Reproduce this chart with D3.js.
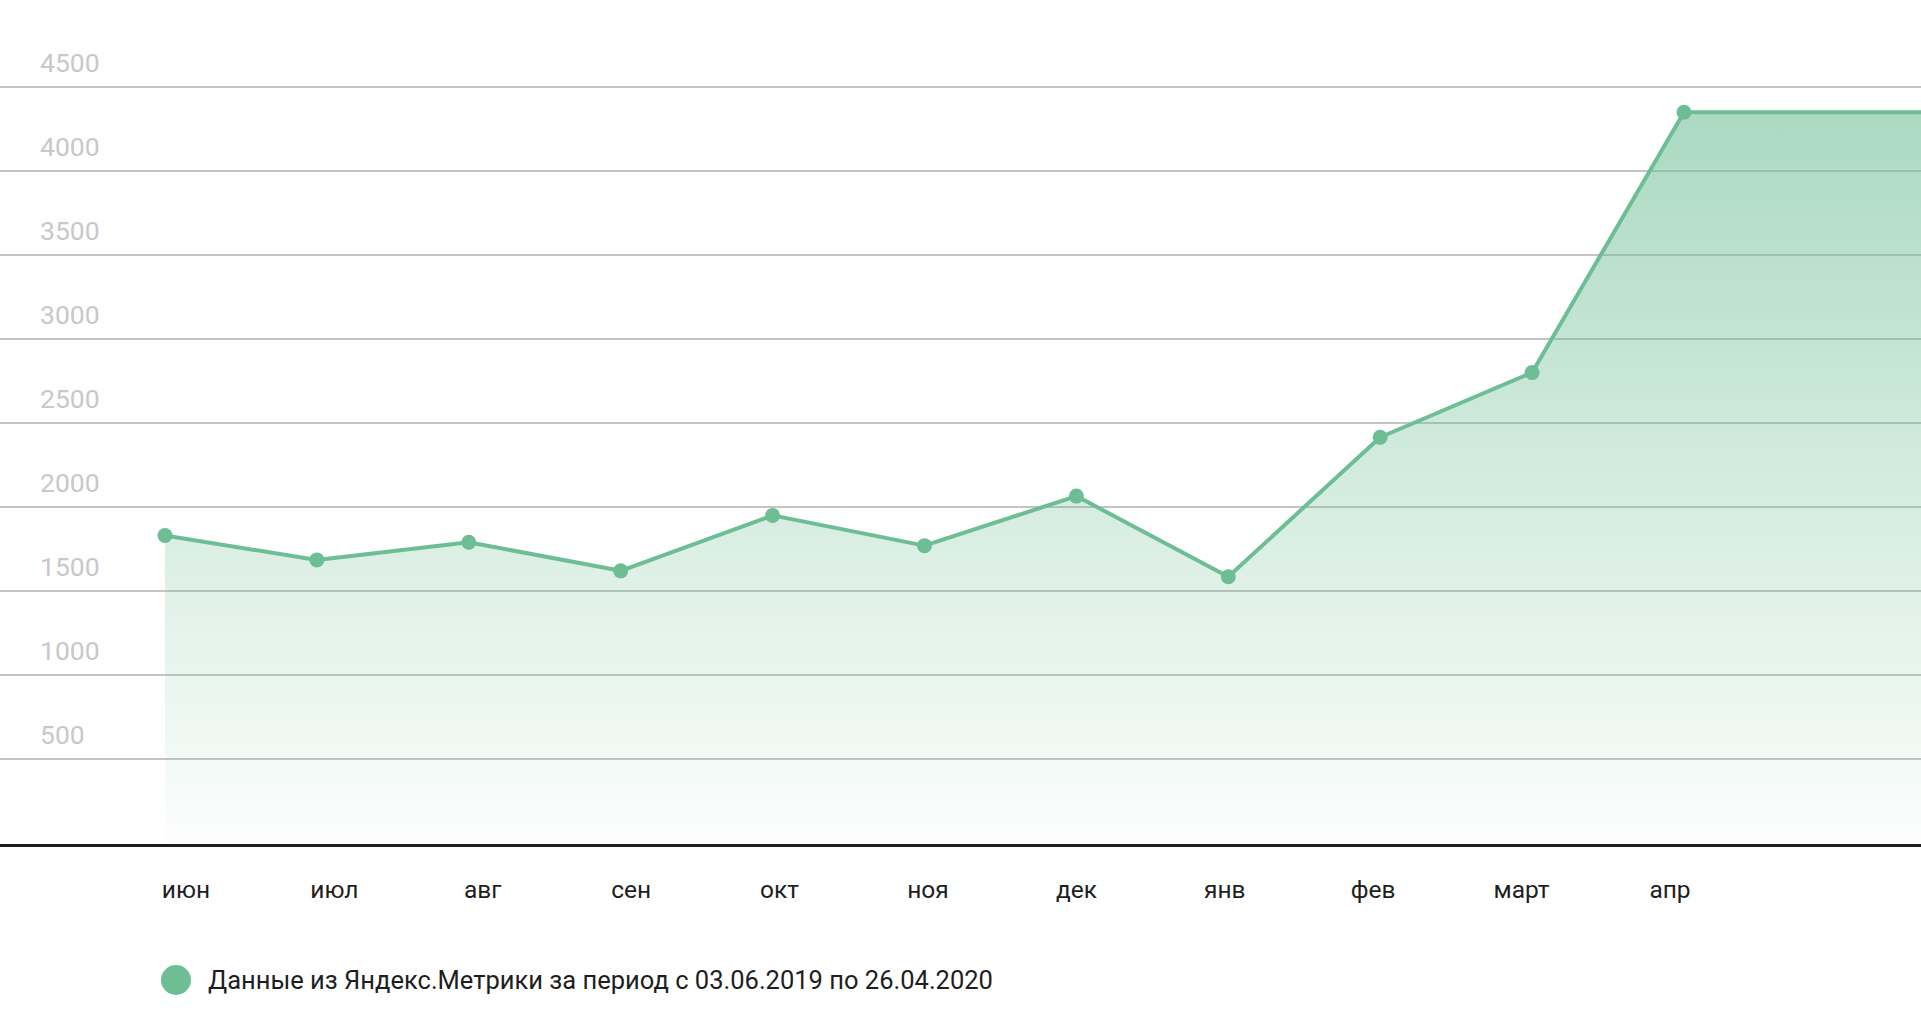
<!DOCTYPE html>
<html>
<head>
<meta charset="utf-8">
<script src="https://cdn.jsdelivr.net/npm/d3@7"></script>
<style>
  html, body { margin: 0; padding: 0; background: #ffffff; }
  svg { display: block; }
  text { font-family: Roboto, "Noto Sans", sans-serif; }
</style>
</head>
<body>
<svg id="chart" width="1921" height="1026"></svg>
<script>
// ---- data ----
const months = ["июн", "июл", "авг", "сен", "окт", "ноя", "дек", "янв", "фев", "март", "апр"];
const visits = [1830, 1685, 1790, 1620, 1950, 1770, 2065, 1585, 2415, 2800, 4350];
const yTickValues = [500, 1000, 1500, 2000, 2500, 3000, 3500, 4000, 4500];
const legendLabel = "Данные из Яндекс.Метрики за период с 03.06.2019 по 26.04.2020";

// ---- layout ----
const W = 1921, H = 1026;
const green = "#6dbe94";
const svg = d3.select("#chart");

const x = d3.scalePoint().domain(months).range([165, 1684]);
const xLabel = d3.scalePoint().domain(months).range([186, 1670]);
const y = d3.scaleLinear().domain([0, 4500]).range([843, 87]);

const data = months.map((m, i) => ({ m, v: visits[i] }));

// gradient
const defs = svg.append("defs");
const grad = defs.append("linearGradient")
  .attr("id", "areaGrad")
  .attr("gradientUnits", "userSpaceOnUse")
  .attr("x1", 0).attr("x2", 0)
  .attr("y1", y(d3.max(visits))).attr("y2", y(0));
grad.append("stop").attr("offset", 0).attr("stop-color", green).attr("stop-opacity", 0.58);
grad.append("stop").attr("offset", 1).attr("stop-color", green).attr("stop-opacity", 0.02);

// gridlines + y labels
const grid = svg.append("g");
grid.selectAll("line").data(yTickValues).join("line")
  .attr("x1", 0).attr("x2", W)
  .attr("y1", d => Math.round(y(d))).attr("y2", d => Math.round(y(d)))
  .attr("stroke", "#c4c4c4").attr("stroke-width", 2.2);
grid.selectAll("text").data(yTickValues).join("text")
  .attr("x", 40).attr("y", d => y(d) - 15)
  .attr("fill", "#c8c8c8")
  .attr("font-size", 26.5)
  .text(d => d);

// line/area path data: points, then flat continuation to the right edge
const pts = data.map(d => [x(d.m), y(d.v)]);
const linePts = pts.concat([[W, y(visits[visits.length - 1])]]);

const area = d3.area().x(d => d[0]).y0(y(0)).y1(d => d[1]);
svg.append("path").attr("d", area(linePts)).attr("fill", "url(#areaGrad)");

// baseline
svg.append("line")
  .attr("x1", 0).attr("x2", W)
  .attr("y1", Math.round(y(0)) + 2.5).attr("y2", Math.round(y(0)) + 2.5)
  .attr("stroke", "#1e1e1e").attr("stroke-width", 3);

const line = d3.line().x(d => d[0]).y(d => d[1]);
svg.append("path").attr("d", line(linePts))
  .attr("fill", "none").attr("stroke", green).attr("stroke-width", 4)
  .attr("stroke-linejoin", "round");

svg.append("g").selectAll("circle").data(data).join("circle")
  .attr("cx", d => x(d.m)).attr("cy", d => y(d.v)).attr("r", 7.5)
  .attr("fill", green);

// x labels
svg.append("g").selectAll("text").data(months).join("text")
  .attr("x", d => xLabel(d)).attr("y", 898)
  .attr("text-anchor", "middle")
  .attr("fill", "#1e1e1e")
  .attr("font-size", 24.5)
  .text(d => d);

// legend
const lg = svg.append("g");
lg.append("circle").attr("cx", 176).attr("cy", 980).attr("r", 15).attr("fill", green);
lg.append("text").attr("x", 208).attr("y", 989)
  .attr("fill", "#1e1e1e").attr("font-size", 25.5)
  .text(legendLabel);
</script>
</body>
</html>
